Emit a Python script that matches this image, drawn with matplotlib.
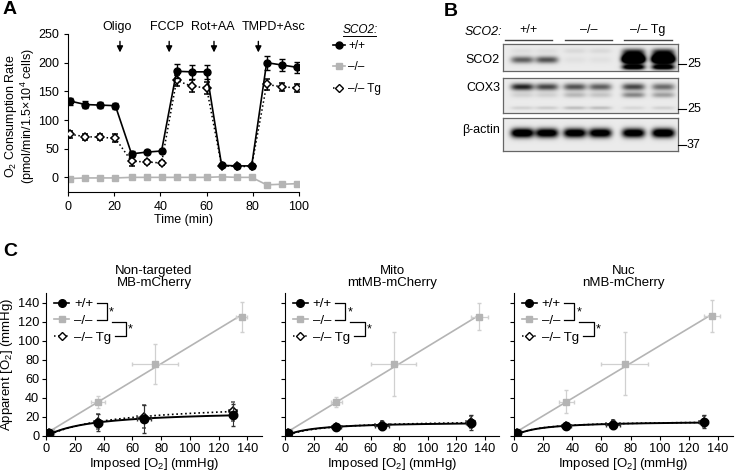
import numpy as np
import matplotlib
matplotlib.use('Agg')
import matplotlib.pyplot as plt
from matplotlib.lines import Line2D

plt.rcParams['font.family'] = ['Liberation Sans', 'DejaVu Sans']
plt.rcParams['mathtext.fontset'] = 'custom'
plt.rcParams['mathtext.rm'] = 'Liberation Sans'
plt.rcParams['mathtext.it'] = 'Liberation Sans:italic'
plt.rcParams['axes.linewidth'] = 0.8
plt.rcParams['xtick.major.width'] = 0.8
plt.rcParams['ytick.major.width'] = 0.8
plt.rcParams['xtick.major.size'] = 3
plt.rcParams['ytick.major.size'] = 3

# ---------------- data ----------------
genotypes = ['+/+', '\u2013/\u2013', '\u2013/\u2013 Tg']

# panel A: oxygen consumption
time_min = [1, 7.5, 14, 20.5, 27.5, 34, 40.5, 47, 53.5, 60, 66.5, 73, 79.5, 86, 92.5, 99]
ocr_wt = [133, 127, 126, 125, 41, 44, 46, 185, 184, 184, 21, 20, 20, 200, 196, 192]
ocr_wt_err = [6, 6, 5, 5, 5, 3, 3, 12, 12, 12, 3, 3, 3, 12, 10, 10]
ocr_ko = [-2, -1, -1, -1, 0, 0, 0, 0, 0, 0, 1, 0, 0, -13, -12, -11]
ocr_tg = [75, 71, 70, 68, 28, 27, 25, 169, 159, 156, 20, 19, 19, 162, 158, 156]
ocr_tg_err = [6, 5, 5, 7, 8, 3, 3, 10, 10, 10, 2, 2, 2, 9, 7, 7]
drugs = ['Oligo', 'FCCP', 'Rot+AA', 'TMPD+Asc']
inject_time = [22.5, 43.8, 63.2, 82.4]
drug_label_x = [21.4, 42.7, 62.9, 89.2]

# panel B: western blot band intensities (6 lanes)
blot_groups = ['+/+', '\u2013/\u2013', '\u2013/\u2013 Tg']
sco2_band = [0.55, 0.6, 0.04, 0.04, 1.6, 1.6]
sco2_lower = [0.0, 0.0, 0.0, 0.0, 1.2, 1.2]
sco2_upper = [0.05, 0.05, 0.07, 0.07, 0.3, 0.3]
cox3_band = [0.8, 0.65, 0.6, 0.55, 0.65, 0.5]
cox3_lower = [0.1, 0.1, 0.2, 0.15, 0.4, 0.3]
cox3_faint = [0.1, 0.12, 0.18, 0.18, 0.08, 0.1]
actin_band = [1.3, 1.2, 1.2, 1.2, 1.2, 1.3]
marker_kda = ['25', '25', '37']

# panel C: apparent vs imposed O2
c_titles = ['Non-targeted\nMB-mCherry', 'Mito\nmtMB-mCherry', 'Nuc\nnMB-mCherry']
imposed_wt = [2, 36, 68, 130]
imposed_wt_err = [1, 3, 5, 3]
apparent_wt = [[3, 14, 18, 22], [3.5, 9, 11, 14], [3.5, 10, 12, 15]]
apparent_wt_err = [[1, 9, 15, 12], [1, 2, 5, 8], [1, 3, 5, 7]]
apparent_tg = [[3, 15, 20, 26], [3.5, 9, 11.5, 14.5], [3.5, 10, 12.5, 15]]
apparent_tg_err = [[1, 8, 12, 10], [1, 2, 4, 6], [1, 3, 4, 6]]
imposed_ko = [3, 36, 76, 136]
imposed_ko_err = [[1, 5, 16, 4], [1, 4, 16, 6], [1, 5, 16, 5.5]]
apparent_ko = [[4, 35.5, 76, 125], [4, 35.5, 75.5, 125], [4, 36, 76, 126]]
apparent_ko_err = [[1, 6, 21, 16], [1, 5, 34, 14], [1, 12, 33, 17]]

GRAY = '#b4b4b4'
LGRAY = '#d0d0d0'
W, H = 740, 475


def fx(p):
    return p / W


def fy(p):
    return 1 - p / H


def box(l, t, r, b):
    return [fx(l), fy(b), fx(r) - fx(l), fy(t) - fy(b)]


def fig_line(fig, xs, ys, **kw):
    fig.add_artist(Line2D([fx(x) for x in xs], [fy(y) for y in ys],
                          transform=fig.transFigure, **kw))


def sat_fit(x, y):
    # y = a*x/(b+x), simple least squares over b
    x = np.asarray(x, float)
    y = np.asarray(y, float)
    best = None
    for b in np.linspace(1, 300, 3000):
        g = x / (b + x)
        a = (g @ y) / (g @ g)
        r = np.sum((a * g - y) ** 2)
        if best is None or r < best[0]:
            best = (r, a, b)
    return best[1], best[2]


fig = plt.figure(figsize=(7.4, 4.75), dpi=100)

# ---------------- panel A ----------------
axA = fig.add_axes(box(68, 34, 299, 191.7))
axA.errorbar(time_min, ocr_ko, color=GRAY, marker='s', ms=5, lw=1.2, zorder=2)
axA.errorbar(time_min, ocr_tg, yerr=ocr_tg_err, color='black', ls=':', lw=1.1,
             marker='D', ms=4, mfc='white', mec='black', mew=1.1,
             capsize=2.5, elinewidth=1, zorder=3)
axA.errorbar(time_min, ocr_wt, yerr=ocr_wt_err, color='black', ls='-', lw=1.2,
             marker='o', ms=5, capsize=2.5, elinewidth=1, zorder=4)
axA.set_xlim(0, 100)
axA.set_ylim(-25, 250)
axA.set_xticks([0, 20, 40, 60, 80, 100])
axA.set_yticks([0, 50, 100, 150, 200, 250])
axA.tick_params(labelsize=9)
for s in ['top', 'right']:
    axA.spines[s].set_visible(False)
axA.set_xlabel('Time (min)', fontsize=9, labelpad=1)
axA.set_ylabel('O$_2$ Consumption Rate\n(pmol/min/1.5\u00d710$^4$ cells)',
               fontsize=9, linespacing=1.0)
axA.yaxis.set_label_coords(-0.135, 0.48)
for name, t, lx in zip(drugs, inject_time, drug_label_x):
    axA.annotate('', xy=(t, 213), xytext=(t, 242),
                 arrowprops=dict(arrowstyle='-|>', color='black', lw=1,
                                 mutation_scale=9),
                 annotation_clip=False)
    axA.text(lx, 262, name, ha='center', va='center', fontsize=9, clip_on=False)

handlesA = [
    Line2D([], [], color='black', marker='o', ms=5, lw=1.2),
    Line2D([], [], color=GRAY, marker='s', ms=5, lw=1.2),
    Line2D([], [], color='black', ls=':', marker='D', ms=4, mfc='white', lw=1.1),
]
fig.legend(handlesA, genotypes, loc='upper left', frameon=False,
           bbox_to_anchor=(fx(333), fy(40)), fontsize=8.5, borderpad=0,
           borderaxespad=0, handlelength=1.0, handletextpad=0.3,
           labelspacing=0.8)
fig.text(fx(343), fy(30), 'SCO2:', style='italic', fontsize=8.5,
         ha='left', va='center')
fig_line(fig, [343, 376], [36, 36], color='black', lw=0.7)

# ---------------- panel B ----------------
lane_x = [0.11, 0.25, 0.41, 0.555, 0.745, 0.915]


def blot_image(h, w, rows):
    yy, xx = np.mgrid[0:h, 0:w]
    dens = np.zeros((h, w))
    for yc, sy, amps in rows:
        for cx, amp in zip(lane_x, amps):
            sx = np.exp(-np.abs((xx / w - cx) / 0.065) ** 4)
            sy_ = np.exp(-((yy / h - yc) / sy) ** 2)
            dens += amp * sx * sy_
    return np.clip(0.92 - dens, 0, 1)


blots = [
    ((503, 44, 678, 71), [(0.58, 0.13, sco2_band), (0.45, 0.2, sco2_lower),
                          (0.85, 0.1, sco2_lower), (0.25, 0.1, sco2_upper)],
     'SCO2', 60),
    ((503, 78, 678, 113), [(0.25, 0.1, cox3_band), (0.48, 0.08, cox3_lower),
                           (0.85, 0.05, cox3_faint)],
     'COX3', 88),
    ((503, 118, 678, 151), [(0.45, 0.14, actin_band)],
     '\u03b2-actin', 130),
]
for (l, t, r, b), rows, name, ylab in blots:
    axb = fig.add_axes(box(l, t, r, b))
    img = blot_image(int((b - t) * 3), int((r - l) * 3), rows)
    axb.imshow(img, cmap='gray', vmin=0, vmax=1, aspect='auto',
               interpolation='bilinear')
    axb.set_xticks([])
    axb.set_yticks([])
    for s in axb.spines.values():
        s.set_color('#666666')
        s.set_linewidth(0.9)
    fig.text(fx(500), fy(ylab), name, ha='right', va='center', fontsize=9)
for kda, ymark in zip(marker_kda, [64, 109, 145]):
    fig_line(fig, [678, 686], [ymark, ymark], color='black', lw=0.8)
    fig.text(fx(687), fy(ymark), kda, ha='left', va='center', fontsize=9)

fig.text(fx(465), fy(32), 'SCO2:', style='italic', fontsize=9,
         ha='left', va='center')
for g, (x0, x1) in zip(blot_groups, [(505, 552), (565, 612), (624, 672)]):
    fig.text(fx((x0 + x1) / 2), fy(30), g, ha='center', va='center', fontsize=9)
    fig_line(fig, [x0, x1], [40, 40], color='#444444', lw=1)

# ---------------- panel C ----------------
c_boxes = [(46.3, 261.7), (285, 499.3), (514, 732.7)]
for i, (l, r) in enumerate(c_boxes):
    ax = fig.add_axes(box(l, 293, r, 436))
    # -/- linear fit
    k, c0 = np.polyfit(imposed_ko, apparent_ko[i], 1)
    xs = np.array([0, imposed_ko[-1]])
    ax.plot(xs, k * xs + c0, color=GRAY, lw=1.2, zorder=1)
    ax.errorbar(imposed_ko, apparent_ko[i], xerr=imposed_ko_err[i],
                yerr=apparent_ko_err[i], ls='none', marker='s', ms=5,
                color=GRAY, ecolor=LGRAY, elinewidth=0.9, capsize=1.5, zorder=2)
    xx = np.linspace(0, imposed_wt[-1], 200)
    a, bb = sat_fit(imposed_wt, apparent_tg[i])
    ax.plot(xx, a * xx / (bb + xx), color='black', ls=':', lw=1.2, zorder=3)
    ax.errorbar(imposed_wt, apparent_tg[i], xerr=imposed_wt_err,
                yerr=apparent_tg_err[i], ls='none', marker='D', ms=4.5,
                mfc='white', mec='black', mew=1.1, color='black',
                ecolor='#555555', elinewidth=0.8, capsize=1.5, zorder=4)
    a, bb = sat_fit(imposed_wt, apparent_wt[i])
    ax.plot(xx, a * xx / (bb + xx), color='black', ls='-', lw=1.4, zorder=5)
    ax.errorbar(imposed_wt, apparent_wt[i], xerr=imposed_wt_err,
                yerr=apparent_wt_err[i], ls='none', marker='o', ms=6,
                color='black', ecolor='#333333', elinewidth=0.8, capsize=1.5,
                zorder=6)
    ax.set_xlim(0, 150)
    ax.set_ylim(0, 150)
    ax.set_xticks(range(0, 141, 20))
    ax.set_yticks(range(0, 141, 20))
    for s in ['top', 'right']:
        ax.spines[s].set_visible(False)
    ax.tick_params(labelsize=9.2, pad=2)
    if i > 0:
        ax.set_yticklabels([])
    else:
        ax.set_ylabel('Apparent [O$_2$] (mmHg)', fontsize=9.5)
        ax.yaxis.set_label_coords(-0.145, 0.5)
    ax.set_xlabel('Imposed [O$_2$] (mmHg)', fontsize=9.5, labelpad=1)
    ax.set_title(c_titles[i], fontsize=9.5, pad=5, linespacing=1.05)
    handlesC = [
        Line2D([], [], color='black', marker='o', ms=5.5, lw=1.2),
        Line2D([], [], color=GRAY, marker='s', ms=5, lw=1.2),
        Line2D([], [], color='black', ls=':', marker='D', ms=4, mfc='white', lw=1.1),
    ]
    ax.legend(handlesC, genotypes, loc='upper left', frameon=False,
              bbox_to_anchor=(fx(8) / fx(r - l), 1 - 5 / 143), fontsize=9.5,
              borderpad=0, borderaxespad=0, handlelength=1.1,
              handletextpad=0.4, labelspacing=0.35)
    T = 293
    fig_line(fig, [l + 50.4, l + 60.4, l + 60.4, l + 50.4],
             [T + 10.3, T + 10.3, T + 27, T + 27], color='black', lw=0.9)
    fig_line(fig, [l + 65.4, l + 79.7, l + 79.7, l + 68.7],
             [T + 28.7, T + 28.7, T + 42.7, T + 42.7], color='black', lw=0.9)
    fig.text(fx(l + 62.5), fy(T + 19), '*', fontsize=9, ha='left', va='center')
    fig.text(fx(l + 81.5), fy(T + 36), '*', fontsize=9, ha='left', va='center')

fig.text(fx(3), fy(9), 'A', fontsize=14, fontweight='bold', ha='left', va='center')
fig.text(fx(444), fy(11), 'B', fontsize=14, fontweight='bold', ha='left', va='center')
fig.text(fx(3), fy(252), 'C', fontsize=14, fontweight='bold', ha='left', va='center')

fig.savefig('out.png', dpi=100)
